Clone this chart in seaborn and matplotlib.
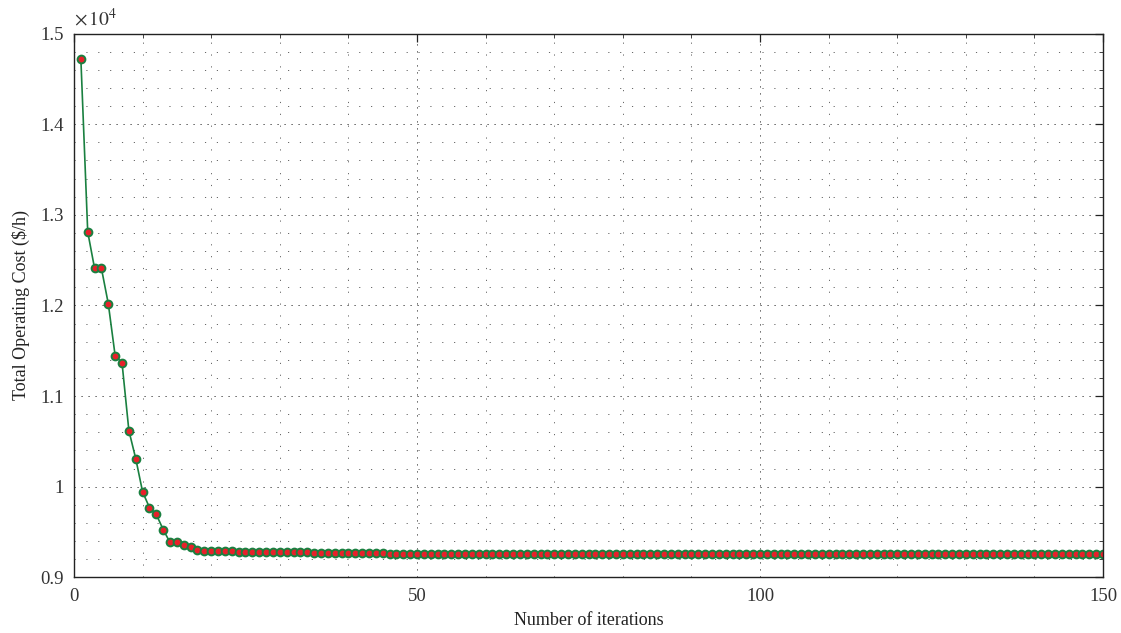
import numpy as np
import pandas as pd
import seaborn as sns
import matplotlib.pyplot as plt
from matplotlib.ticker import MultipleLocator, FuncFormatter

# data
iterations = list(range(1, 151))
total_cost = [
    14724, 12813, 12409, 12409, 12019, 11445, 11368, 10619, 10310, 9943,
    9770, 9693, 9527, 9384, 9384, 9360, 9331, 9296, 9290, 9288,
    9287, 9286, 9285, 9284, 9283, 9282, 9281, 9280, 9279, 9278,
    9277, 9276, 9275, 9274, 9273, 9272, 9271, 9270, 9269, 9268,
    9267, 9266, 9265, 9264, 9263, 9262, 9261, 9261, 9260, 9260,
    9259, 9259, 9258, 9258, 9257, 9257, 9257, 9257, 9257, 9257,
    9257, 9257, 9257, 9257, 9257, 9257, 9257, 9257, 9257, 9257,
    9257, 9257, 9257, 9257, 9257, 9257, 9257, 9257, 9257, 9257,
    9256, 9256, 9256, 9256, 9256, 9256, 9256, 9256, 9256, 9256,
    9256, 9256, 9256, 9256, 9256, 9256, 9256, 9256, 9256, 9256,
    9256, 9256, 9256, 9256, 9256, 9256, 9256, 9256, 9256, 9256,
    9255, 9255, 9255, 9255, 9255, 9255, 9255, 9255, 9255, 9255,
    9255, 9255, 9255, 9255, 9255, 9255, 9255, 9255, 9255, 9255,
    9255, 9255, 9255, 9255, 9255, 9254, 9254, 9254, 9254, 9254,
    9254, 9254, 9254, 9254, 9254, 9254, 9254, 9254, 9254, 9254,
]
x_ticks = [0, 50, 100, 150]

sns.set_style('white')
plt.rcParams['font.family'] = ['Liberation Serif', 'DejaVu Serif']

df = pd.DataFrame({'iter': iterations, 'cost': total_cost})

fig = plt.figure(figsize=(11.21, 6.33), dpi=100)
ax = fig.add_axes([0.066, 0.088, 0.918, 0.859])

sns.lineplot(x='iter', y='cost', data=df, ax=ax, color='#1a8040', linewidth=1.2,
             marker='o', markersize=5.6, markerfacecolor='#e8202a',
             markeredgecolor='#1a8040', markeredgewidth=1.4)

ax.set_xlim(0, 150)
ax.set_ylim(9000, 15000)
ax.set_xticks(x_ticks)
ax.xaxis.set_minor_locator(MultipleLocator(10))
ax.yaxis.set_major_locator(MultipleLocator(1000))
ax.yaxis.set_minor_locator(MultipleLocator(200))
ax.yaxis.set_major_formatter(FuncFormatter(lambda v, p: '%g' % round(v / 1e4, 2)))

ax.grid(which='major', color='#333333', linewidth=0.7, linestyle=(0, (1.2, 6.0)))
ax.grid(which='minor', color='#666666', linewidth=0.7, linestyle=(0, (1.2, 11.0)))

for s in ax.spines.values():
    s.set_visible(True)
    s.set_color('#222222')
    s.set_linewidth(1.0)

ax.tick_params(which='both', direction='in', top=True, right=True, colors='#222222',
               labelcolor='#333333', labelsize=13.5)
ax.tick_params(which='major', length=6, width=0.9)
ax.tick_params(axis='x', which='major', pad=8)
ax.tick_params(axis='y', which='major', pad=7.5)
ax.tick_params(which='minor', length=3, width=0.6)

ax.set_xlabel('Number of iterations', fontsize=13, color='#222222', labelpad=5)
ax.set_ylabel(r'Total Operating Cost (\$/h)', fontsize=13, color='#222222', labelpad=7)

ax.text(0.0, 1.008, r'$\times\,10^{4}$', transform=ax.transAxes, fontsize=14,
        color='#333333', ha='left', va='bottom', math_fontfamily='stix')

plt.savefig('out.png', dpi=100)
